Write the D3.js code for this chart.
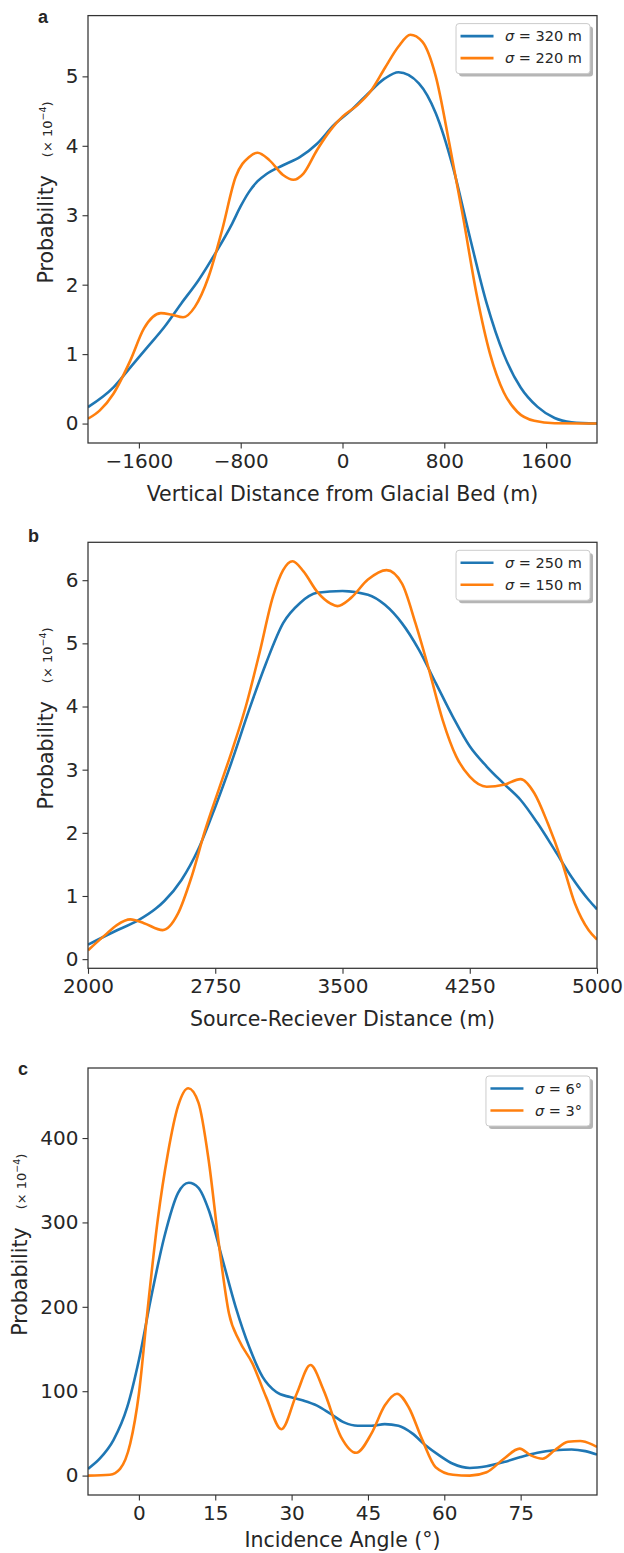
<!DOCTYPE html>
<html>
<head>
<meta charset="utf-8">
<script src="https://cdn.jsdelivr.net/npm/d3@7"></script>
<style>
  body { margin: 0; background: #fff; }
  svg { display: block; }
  text { font-family: "DejaVu Sans", sans-serif; fill: #262626; }
</style>
</head>
<body>
<div id="chart"></div>
<script>
// ---- panel a: vertical distance from glacial bed ----
let depthWide = [-2000,-1800,-1667,-1533,-1400,-1267,-1133,-1000,-867,-800,-733,-667,-600,-467,-333,-200,-67,67,200,333,440,600,733,867,1000,1133,1267,1400,1533,1667,1800,2000];
let probDepthWide = [0.236,0.52,0.81,1.10,1.39,1.73,2.06,2.45,2.88,3.13,3.34,3.49,3.59,3.72,3.84,4.03,4.30,4.51,4.75,4.97,5.06,4.90,4.47,3.70,2.69,1.73,1.00,0.52,0.24,0.08,0.02,0.0];
let depthNarrow = [-2000,-1907,-1800,-1667,-1560,-1427,-1347,-1253,-1160,-1053,-947,-840,-733,-667,-573,-467,-387,-307,-200,-93,0,120,227,333,440,533,627,733,840,947,1053,1160,1267,1373,1507,1667,2000];
let probDepthNarrow = [0.07,0.19,0.43,0.91,1.37,1.59,1.57,1.53,1.68,2.11,2.78,3.55,3.84,3.90,3.79,3.58,3.51,3.60,3.94,4.23,4.42,4.59,4.80,5.12,5.43,5.60,5.50,5.00,4.03,2.98,1.87,1.00,0.45,0.17,0.04,0.005,0.0];

// ---- panel b: source-receiver distance ----
let offsetWide = [2000,2150,2300,2400,2450,2550,2650,2750,2850,2950,3050,3150,3250,3350,3500,3650,3750,3850,3950,4050,4150,4250,4350,4450,4550,4650,4750,4850,4950,5000];
let probOffsetWide = [0.23,0.43,0.62,0.80,0.92,1.25,1.74,2.41,3.15,3.95,4.69,5.32,5.64,5.80,5.83,5.77,5.61,5.32,4.90,4.37,3.84,3.37,3.05,2.78,2.52,2.15,1.73,1.30,0.94,0.79];
let offsetNarrow = [2000,2100,2170,2250,2330,2440,2530,2610,2690,2770,2850,2930,3010,3090,3150,3206,3270,3350,3430,3470,3550,3650,3760,3850,3930,4010,4090,4170,4250,4350,4450,4550,4630,4710,4790,4870,4950,5000];
let probOffsetNarrow = [0.14,0.38,0.54,0.63,0.57,0.46,0.72,1.30,2.04,2.68,3.31,4.00,4.84,5.74,6.16,6.30,6.14,5.82,5.63,5.59,5.72,6.01,6.16,5.95,5.32,4.58,3.79,3.21,2.89,2.73,2.76,2.85,2.63,2.15,1.57,0.88,0.46,0.31];

// ---- panel c: incidence angle ----
let angleWide = [-10,-7.7,-5,-2.3,0,2.3,5,7.7,9.8,11.7,13.7,16.3,19,21.7,24.3,27,29.7,32.3,35,37.7,40.3,43,45.7,48.3,51,53.7,56.3,59,61.7,65,68.3,71.7,75,78.3,81.7,85,87.7,90];
let probAngleWide = [8,20,42,81,137,208,283,335,347,341,315,259,200,152,117,99,93,89,83,73,63,59,59,61,59,50,36,24,14,9,11,16,22,27,30,31,29,25];
let angleNarrow = [-10,-5.7,-3.7,-1.7,0,1.7,3.7,5.7,7.7,9.7,11.7,13.7,15.7,17.7,19.7,22.3,25,28,31,33.7,36.3,39.7,42.7,45.7,48.3,50.7,53,55.7,58.3,61.7,65,68.3,71.7,74.8,77,79.3,81.7,84.3,86.7,89,90];
let probAngleNarrow = [0,1,8,38,97,196,303,382,438,459,442,374,275,192,160,133,93,55,97,131,101,46,27,50,83,97,81,42,10,1,0,4,20,32,24,20,30,40,41,37,34];

let legendA = ["320 m", "220 m"];
let legendB = ["250 m", "150 m"];
let legendC = ["6°", "3°"];

let w = 624;
let h = 1553;
let left = 88;
let right = 597;
let blue = "#1f77b4";
let orange = "#ff7f0e";

let svg = d3.select("#chart").append("svg")
  .attr("width", w)
  .attr("height", h);

function minusFmt(v) {
  return v < 0 ? "\u2212" + Math.abs(v) : String(v);
}

function drawPanel(p) {
  let xScale = d3.scaleLinear().domain(p.xDomain).range([left, right]);
  let yScale = d3.scaleLinear().domain(p.yDomain).range([p.bottom, p.top]);
  let g = svg.append("g").attr("class", "panel");

  let clipId = "clip" + p.letter;
  g.append("clipPath").attr("id", clipId)
    .append("rect")
      .attr("x", left).attr("y", p.top)
      .attr("width", right - left).attr("height", p.bottom - p.top);

  // lines
  let lineMaker = d3.line()
    .x(d => xScale(d[0]))
    .y(d => yScale(d[1]))
    .curve(d3.curveMonotoneX);

  let series = [
    { xs: p.wideX, ys: p.wideY, color: blue },
    { xs: p.narrowX, ys: p.narrowY, color: orange }
  ];
  g.append("g").attr("clip-path", "url(#" + clipId + ")")
    .selectAll("path").data(series).enter()
    .append("path")
      .attr("d", s => lineMaker(s.xs.map((x, i) => [x, s.ys[i]])))
      .attr("fill", "none")
      .attr("stroke", s => s.color)
      .attr("stroke-width", 2.6)
      .attr("stroke-linejoin", "round");

  // axes
  let xAxis = d3.axisBottom(xScale).tickValues(p.xTicks).tickSize(5.5).tickPadding(5).tickFormat(minusFmt);
  let xg = g.append("g").attr("transform", "translate(0," + p.bottom + ")").call(xAxis);
  let yAxis = d3.axisLeft(yScale).tickValues(p.yTicks).tickSize(5.5).tickPadding(4).tickFormat(minusFmt);
  let yg = g.append("g").attr("transform", "translate(" + left + ",0)").call(yAxis);
  [xg, yg].forEach(ag => {
    ag.select(".domain").remove();
    ag.selectAll("line").attr("stroke", "#333").attr("stroke-width", 1.1);
    ag.selectAll("text").style("font-size", "20px").attr("fill", "#262626");
  });

  // frame
  g.append("rect")
    .attr("x", left).attr("y", p.top)
    .attr("width", right - left).attr("height", p.bottom - p.top)
    .attr("fill", "none")
    .attr("stroke", "#333")
    .attr("stroke-width", 1.25);

  // axis labels
  g.append("text")
    .attr("x", (left + right) / 2)
    .attr("y", p.bottom + p.xLabelGap)
    .attr("text-anchor", "middle")
    .style("font-size", "20.5px")
    .text(p.xLabel);

  let cy = (p.top + p.bottom) / 2;
  g.append("text")
    .attr("transform", "translate(" + p.yLabelX + "," + cy + ") rotate(-90)")
    .attr("text-anchor", "middle")
    .style("font-size", "20.5px")
    .text("Probability");

  let unit = g.append("text")
    .attr("transform", "translate(" + (p.yLabelX - 1) + "," + (cy - 100) + ") rotate(-90)")
    .attr("text-anchor", "middle")
    .style("font-size", "13px");
  unit.append("tspan").text("(\u00d7 10");
  unit.append("tspan").attr("dy", -6).style("font-size", "9.5px").text("\u22124");
  unit.append("tspan").attr("dy", 6).text(")");

  // panel letter
  g.append("text")
    .attr("x", p.letterX)
    .attr("y", p.letterY)
    .style("font-family", "'Liberation Sans', Arial, sans-serif")
    .style("font-weight", "bold")
    .style("font-size", "18px")
    .text(p.letter);

  // legend
  let leg = g.append("g");
  let legTop = p.top + 8;
  let legRight = 590;
  let texts = [];
  p.legend.forEach((lab, i) => {
    let t = leg.append("text")
      .attr("y", legTop + 12.5 + i * 22 + 5)
      .style("font-size", "14.5px");
    t.append("tspan").style("font-style", "italic").text("\u03c3");
    t.append("tspan").text(" = " + lab);
    texts.push(t);
  });
  let textW = d3.max(texts, t => t.node().getComputedTextLength());
  let textX = legRight - 8 - textW;
  let lineX1 = textX - 11.5 - 33;
  let legLeft = lineX1 - 4.5;
  texts.forEach(t => t.attr("x", textX));
  leg.insert("rect", ":first-child")
    .attr("x", legLeft).attr("y", legTop)
    .attr("width", legRight - legLeft).attr("height", 50)
    .attr("rx", 3)
    .attr("fill", "white")
    .attr("stroke", "#cccccc")
    .attr("stroke-width", 1);
  leg.insert("rect", ":first-child")
    .attr("x", legLeft + 3).attr("y", legTop + 3)
    .attr("width", legRight - legLeft).attr("height", 50)
    .attr("rx", 3)
    .attr("fill", "#b5b5b5");
  [blue, orange].forEach((c, i) => {
    leg.append("line")
      .attr("x1", lineX1).attr("x2", lineX1 + 33)
      .attr("y1", legTop + 12.5 + i * 22).attr("y2", legTop + 12.5 + i * 22)
      .attr("stroke", c)
      .attr("stroke-width", 2.6);
  });
}

drawPanel({
  letter: "a", letterX: 38, letterY: 23,
  top: 15.6, bottom: 443,
  xDomain: [-2000, 2000], yDomain: [-0.28, 5.875],
  xTicks: [-1600, -800, 0, 800, 1600], yTicks: [0, 1, 2, 3, 4, 5],
  wideX: depthWide, wideY: probDepthWide,
  narrowX: depthNarrow, narrowY: probDepthNarrow,
  xLabel: "Vertical Distance from Glacial Bed (m)", xLabelGap: 58,
  yLabelX: 53,
  legend: legendA
});

drawPanel({
  letter: "b", letterX: 28, letterY: 542,
  top: 542.3, bottom: 968.3,
  xDomain: [2000, 5000], yDomain: [-0.145, 6.6],
  xTicks: [2000, 2750, 3500, 4250, 5000], yTicks: [0, 1, 2, 3, 4, 5, 6],
  wideX: offsetWide, wideY: probOffsetWide,
  narrowX: offsetNarrow, narrowY: probOffsetNarrow,
  xLabel: "Source-Reciever Distance (m)", xLabelGap: 58,
  yLabelX: 53,
  legend: legendB
});

drawPanel({
  letter: "c", letterX: 18, letterY: 1075,
  top: 1068, bottom: 1495,
  xDomain: [-10, 90], yDomain: [-23, 483],
  xTicks: [0, 15, 30, 45, 60, 75], yTicks: [0, 100, 200, 300, 400],
  wideX: angleWide, wideY: probAngleWide,
  narrowX: angleNarrow, narrowY: probAngleNarrow,
  xLabel: "Incidence Angle (°)", xLabelGap: 52,
  yLabelX: 26.5,
  legend: legendC
});
</script>
</body>
</html>
